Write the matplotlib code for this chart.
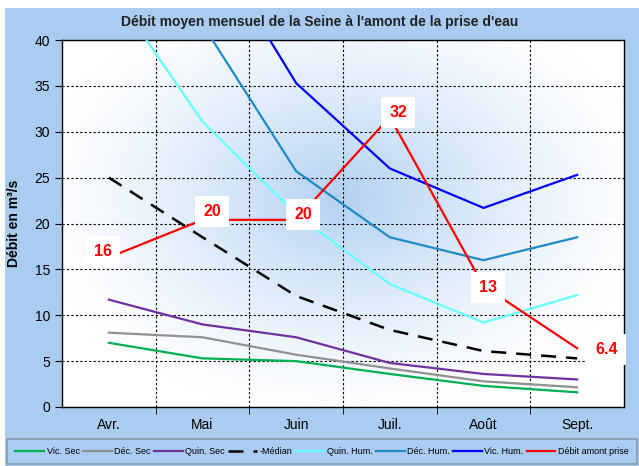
import numpy as np
import matplotlib
matplotlib.use("Agg")
import matplotlib.pyplot as plt
from matplotlib.patches import Rectangle

plt.rcParams['font.family'] = ['Liberation Sans', 'DejaVu Sans']

months = ["Avr.", "Mai", "Juin", "Juil.", "Août", "Sept."]

vic_sec = [7.0, 5.3, 5.0, 3.6, 2.3, 1.6]
dec_sec = [8.1, 7.6, 5.7, 4.2, 2.8, 2.15]
quin_sec = [11.7, 9.0, 7.6, 4.8, 3.6, 3.0]
median = [25.0, 18.5, 12.1, 8.4, 6.1, 5.3]
quin_hum = [46.0, 31.1, 21.0, 13.4, 9.2, 12.2]
dec_hum = [52.0, 41.7, 25.7, 18.5, 16.0, 18.5]
vic_hum = [60.0, 52.0, 35.3, 26.0, 21.7, 25.3]
debit_prise = [16.3, 20.4, 20.4, 31.6, 13.2, 6.4]

BG = '#a9ccf0'

fig = plt.figure(figsize=(6.39, 4.66), dpi=100, facecolor='white')
fig.patches.append(Rectangle((5/639, 0), 1, 458/466, transform=fig.transFigure,
                             facecolor=BG, edgecolor='none', zorder=-10))

ax = fig.add_axes([62/639, 59/466, 562/639, 367/466])
x = np.arange(len(months))

# fond dégradé radial
gx, gy = np.meshgrid(np.linspace(0, 1, 300), np.linspace(0, 1, 300))
r = np.sqrt(((gx - 0.5) / 0.55) ** 2 + ((gy - 0.57) / 0.6) ** 2)
t = np.clip(1 - r, 0, 1) ** 1.3
c0 = np.array([1.0, 1.0, 1.0])
c1 = np.array([0.70, 0.82, 0.95])
img = c0 + (c1 - c0) * t[..., None]
ax.imshow(img, extent=[-0.5, 5.5, 0, 40], origin='lower', aspect='auto', zorder=0)

lw = 1.6
ax.plot(x, vic_sec, color='#00b050', lw=lw, label='Vic. Sec', zorder=3)
ax.plot(x, dec_sec, color='#909090', lw=lw, label='Déc. Sec', zorder=3)
ax.plot(x, quin_sec, color='#7030a0', lw=lw, label='Quin. Sec', zorder=3)
ax.plot(x, median, color='black', lw=1.8, dashes=(6, 4), label='-Médian', zorder=3)
ax.plot(x, quin_hum, color='#66ffff', lw=lw, label='Quin. Hum.', zorder=3)
ax.plot(x, dec_hum, color='#1f8ac8', lw=lw, label='Déc. Hum.', zorder=3)
ax.plot(x, vic_hum, color='#0000ff', lw=lw, label='Vic. Hum.', zorder=3)
ax.plot(x, debit_prise, color='#ff0000', lw=lw, label='Débit amont prise', zorder=3)

# étiquettes de données
offsets = [(-4, 4), (7, 6), (5, 4), (6, 3), (3, -1), (21, -1)]
for i, v in enumerate(debit_prise):
    ax.annotate(f"{v:.2g}", (x[i], v), xytext=offsets[i], textcoords='offset points',
                ha='center', va='center', color='#ff0000', fontsize=11.5, fontweight='bold',
                family=['Liberation Sans Narrow', 'Liberation Sans'],
                bbox=dict(boxstyle='square,pad=0.5', facecolor='white', edgecolor='none'),
                zorder=5)

ax.set_xlim(-0.5, 5.5)
ax.set_ylim(0, 40)
ax.set_yticks(np.arange(0, 41, 5))
ax.set_xticks(x)
ax.set_xticklabels(months, fontsize=10)
ax.set_xticks(np.arange(0.5, 5.5, 1), minor=True)
ax.tick_params(axis='x', which='major', length=0, pad=8)
ax.tick_params(axis='x', which='minor', length=5, direction='out', color='black')
ax.tick_params(axis='y', length=5, direction='out', labelsize=10)
ax.grid(True, axis='y', which='major', color='black', linestyle=(0, (2, 2)), lw=0.8, zorder=1)
ax.grid(True, axis='x', which='minor', color='black', linestyle=(0, (2, 2)), lw=0.8, zorder=1)
ax.set_axisbelow(False)
for s in ax.spines.values():
    s.set_color('black')
    s.set_linewidth(1.0)

ax.set_ylabel("Débit en m³/s", fontsize=10, fontweight='bold', labelpad=10)
fig.text(320/639, 1 - 22/466, "Débit moyen mensuel de la Seine à l'amont de la prise d'eau",
         ha='center', va='center', fontsize=10, fontweight='bold', color='#222222')

leg = fig.legend(loc='lower left', bbox_to_anchor=(7/639, 2/466, 630/639, 27/466),
                 mode='expand', ncol=8, fontsize=6.5, frameon=True, fancybox=False,
                 handlelength=3.2, handletextpad=0.3, columnspacing=0.6, borderaxespad=0,
                 borderpad=0.9)
leg.get_frame().set_facecolor(BG)
leg.get_frame().set_edgecolor('#7f8a96')
leg.get_frame().set_linewidth(1.2)

fig.savefig("out.png", dpi=100, facecolor=fig.get_facecolor())
